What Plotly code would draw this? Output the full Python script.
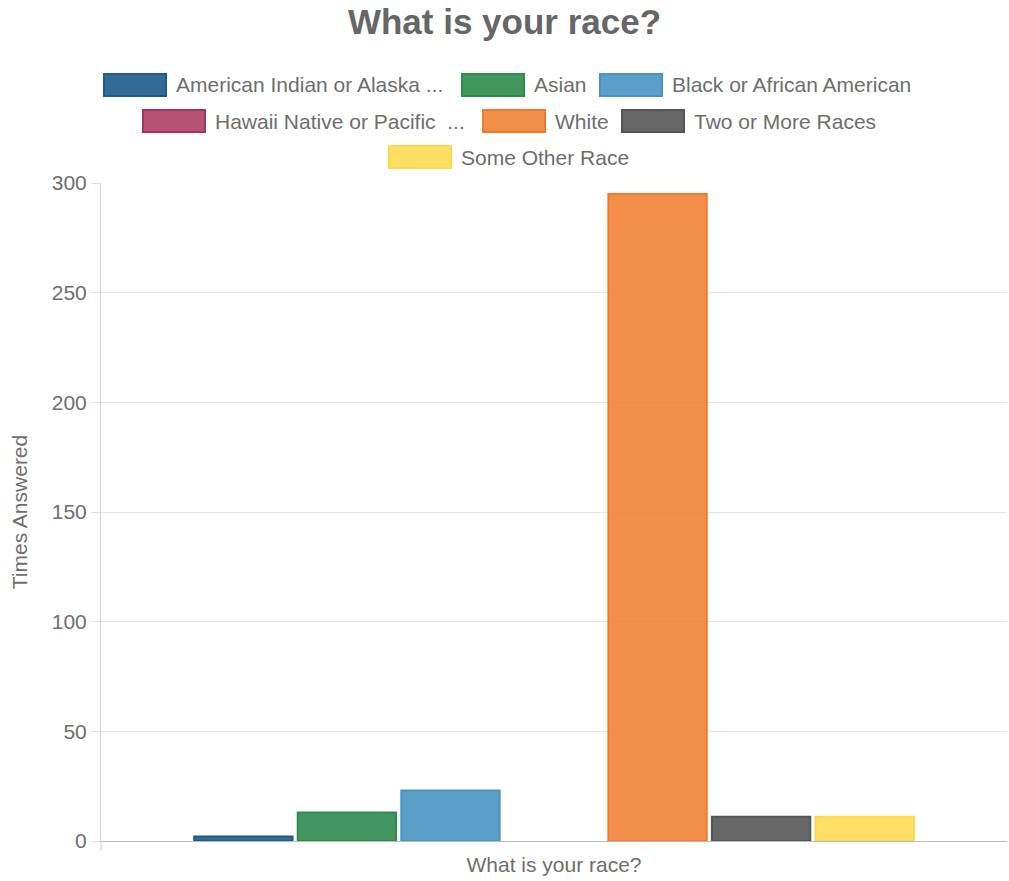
import plotly.graph_objects as go

# Survey responses for a single question, one dataset per answer
question = "What is your race?"
races = [
    "American Indian or Alaska Native",
    "Asian",
    "Black or African American",
    "Hawaii Native or Pacific Islander",
    "White",
    "Two or More Races",
    "Some Other Race",
]
legend_labels = [
    "American Indian or Alaska ...",
    "Asian",
    "Black or African American",
    "Hawaii Native or Pacific  ...",
    "White",
    "Two or More Races",
    "Some Other Race",
]
times_answered = [2, 13, 23, 0, 295, 11, 11]

fill_colors = [
    "rgba(31,90,140,0.9)",
    "rgba(46,139,78,0.9)",
    "rgba(74,148,196,0.9)",
    "rgba(168,51,90,0.85)",
    "rgba(240,122,42,0.85)",
    "rgba(85,85,85,0.9)",
    "rgba(255,216,74,0.85)",
]
line_colors = ["#1f5a8c", "#2e8b4e", "#4a94c4", "#a8335a", "#f07a2a", "#555555", "#ffd84a"]

FONT = "Liberation Sans, Arial, sans-serif"
TEXT = "#6e6e6e"
W, H = 1009, 881
L, R, T, B = 101, 1007, 183, 841  # plot area in pixels

fig = go.Figure()
for name, val, fc, lc in zip(races, times_answered, fill_colors, line_colors):
    fig.add_trace(go.Bar(
        x=[question], y=[val], name=name,
        # empty bars get no outline
        marker=dict(color=fc, line=dict(color=lc, width=2 if val else 0)),
        showlegend=False,
    ))


def px_x(p):
    return (p - L) / (R - L)


def px_y(p):
    return (B - p) / (B - T)


# Legend drawn as boxes + labels, centred rows
legend_pos = [
    (104, 85), (462, 85), (600, 85),
    (143, 121), (483, 121), (622, 121),
    (389, 157),
]
shapes = []
annotations = []
for (bx, cy), lab, fc, lc in zip(legend_pos, legend_labels, fill_colors, line_colors):
    shapes.append(dict(
        type="rect", xref="paper", yref="paper",
        x0=px_x(bx), x1=px_x(bx + 62), y0=px_y(cy + 11), y1=px_y(cy - 11),
        fillcolor=fc, line=dict(color=lc, width=2), layer="above",
    ))
    annotations.append(dict(
        xref="paper", yref="paper", x=px_x(bx + 70), y=px_y(cy),
        xanchor="left", yanchor="middle", text=lab, showarrow=False,
        font=dict(size=21, color=TEXT, family=FONT),
    ))

# small tick below the axis at the left category boundary
shapes.append(dict(
    type="line", xref="paper", yref="paper",
    x0=0, x1=0, y0=px_y(B), y1=px_y(B + 10),
    line=dict(color="#d0d0d0", width=1),
))

fig.update_layout(
    width=W, height=H,
    margin=dict(l=L, r=W - R, t=T, b=H - B, pad=0),
    paper_bgcolor="white", plot_bgcolor="white",
    barmode="group", bargap=0.2, bargroupgap=0.05,
    title=dict(
        text="<b>What is your race?</b>", x=0.5, xanchor="center",
        y=1 - 22 / H, yanchor="middle",
        font=dict(size=35, color="#666666", family=FONT),
    ),
    font=dict(family=FONT, color=TEXT, size=21),
    shapes=shapes,
    annotations=annotations,
    xaxis=dict(
        showticklabels=False, ticks="",
        showline=True, linecolor="#bdbdbd", linewidth=1,
        title=dict(text=question, font=dict(size=21, color=TEXT), standoff=16),
    ),
    yaxis=dict(
        range=[0, 300], dtick=50, tick0=0,
        showgrid=True, gridcolor="#e6e6e6", gridwidth=1,
        showline=True, linecolor="#d0d0d0", linewidth=1,
        ticks="outside", ticklen=9, tickcolor="#e0e0e0",
        tickfont=dict(size=21, color=TEXT),
        zeroline=False,
        title=dict(text="Times Answered", font=dict(size=21, color=TEXT), standoff=18),
    ),
)

fig.write_html("out.html")
